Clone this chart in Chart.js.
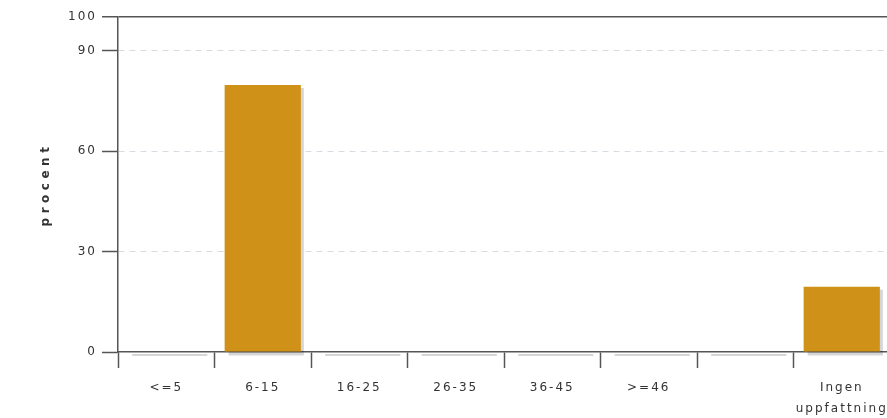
<!DOCTYPE html>
<html>
<head>
<meta charset="utf-8">
<script src="https://cdn.jsdelivr.net/npm/chart.js@4/dist/chart.umd.min.js"></script>
<style>
  html, body { margin: 0; padding: 0; background: #fff; overflow: hidden; }
  #wrap { width: 887px; height: 418px; overflow: hidden; }
  canvas { display: block; }
</style>
</head>
<body>
<div id="wrap"><canvas id="chart" width="892" height="418"></canvas></div>
<script>
// -------------------------------
// Data
// -------------------------------
const categories = ["<=5", "6-15", "16-25", "26-35", "36-45", ">=46", "", ["Ingen", "uppfattning"]];
const percentValues = [0, 79.7, 0, 0, 0, 0, 0, 19.5];
const yTicks = [0, 30, 60, 90, 100];
const yTitle = "procent";

const barColor = "#d09119";
const axisColor = "#555555";
const textColor = "#333333";

// -------------------------------
// Plugins
// -------------------------------
// spaced-out text like the original
const letterSpacingPlugin = {
  id: "letterSpacing",
  beforeDraw(chart) {
    chart.ctx.letterSpacing = "2px";
  },
};

// grey drop shadow behind each bar (also a thin strip for zero bars)
const barShadowPlugin = {
  id: "barShadow",
  beforeDatasetsDraw(chart) {
    const ctx = chart.ctx;
    const meta = chart.getDatasetMeta(0);
    ctx.save();
    ctx.fillStyle = "rgba(0,0,0,0.16)";
    meta.data.forEach((bar) => {
      const { x, y, base, width } = bar.getProps(["x", "y", "base", "width"], true);
      const left = x - width / 2 + 4;
      const top = Math.min(y + 3, base + 2);
      ctx.fillRect(left, top, width - 1, base + 4 - top);
    });
    ctx.restore();
  },
};

// rotated y title with wide letter spacing
const yTitlePlugin = {
  id: "yTitle",
  afterDraw(chart) {
    const ctx = chart.ctx;
    const area = chart.chartArea;
    ctx.save();
    ctx.letterSpacing = "4.5px";
    ctx.font = "bold 12px 'DejaVu Sans'";
    ctx.fillStyle = textColor;
    ctx.textAlign = "center";
    ctx.textBaseline = "middle";
    ctx.translate(46, (area.top + area.bottom) / 2);
    ctx.rotate(-Math.PI / 2);
    ctx.fillText(yTitle, 0, 0);
    ctx.restore();
  },
};

// -------------------------------
// Chart
// -------------------------------
const ctx = document.getElementById("chart").getContext("2d");

new Chart(ctx, {
  type: "bar",
  data: {
    labels: categories,
    datasets: [
      {
        data: percentValues,
        backgroundColor: barColor,
        borderWidth: 0,
        categoryPercentage: 1,
        barPercentage: 0.79,
      },
    ],
  },
  options: {
    responsive: false,
    animation: false,
    devicePixelRatio: 1,
    layout: { padding: { top: 17, right: 2, left: 0, bottom: 0 } },
    plugins: {
      legend: { display: false },
      tooltip: { enabled: false },
    },
    scales: {
      x: {
        offset: true,
        afterFit: (scale) => {
          scale.height = 66;
        },
        grid: {
          offset: true,
          drawOnChartArea: false,
          tickLength: 16,
          tickColor: axisColor,
          tickWidth: 1.5,
          tickBorderDash: [],
        },
        border: { display: true, color: axisColor, width: 1.5 },
        ticks: {
          autoSkip: false,
          maxRotation: 0,
          padding: 10,
          color: textColor,
          font: { family: "'DejaVu Sans'", size: 12, lineHeight: 1.7 },
        },
      },
      y: {
        min: 0,
        max: 100,
        afterFit: (scale) => {
          scale.width = 118;
        },
        afterBuildTicks: (scale) => {
          scale.ticks = yTicks.map((v) => ({ value: v }));
        },
        grid: {
          color: (c) => {
            if (!c.tick) return "transparent";
            if (c.tick.value === 100) return axisColor;
            if (c.tick.value === 0) return "transparent";
            return "#d6dce1";
          },
          lineWidth: (c) => (c.tick && c.tick.value === 100 ? 1.5 : 1),
          tickLength: 16,
          tickColor: axisColor,
          tickWidth: 1.5,
          tickBorderDash: [],
        },
        border: {
          display: true,
          color: axisColor,
          width: 1.5,
          dash: (c) => (c.tick && c.tick.value !== 100 ? [6, 5] : []),
        },
        ticks: {
          padding: 5,
          color: textColor,
          font: { family: "'DejaVu Sans'", size: 12 },
        },
      },
    },
  },
  plugins: [letterSpacingPlugin, barShadowPlugin, yTitlePlugin],
});
</script>
</body>
</html>
